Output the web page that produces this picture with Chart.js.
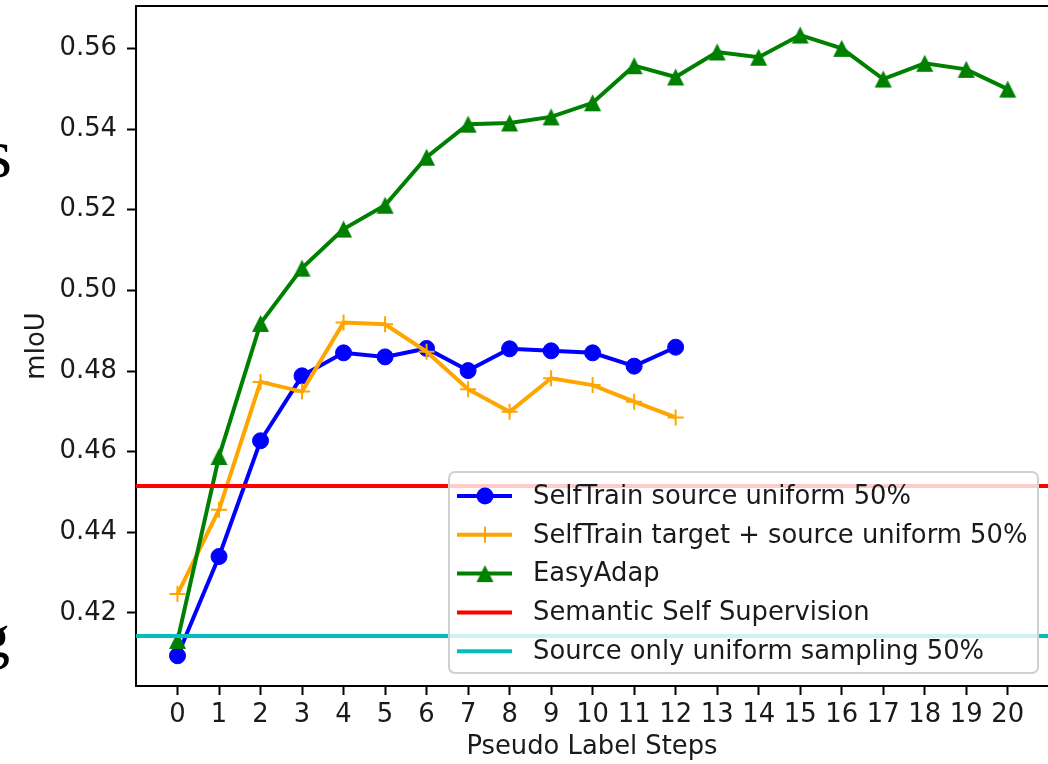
<!DOCTYPE html>
<html>
<head>
<meta charset="utf-8">
<script src="https://cdn.jsdelivr.net/npm/chart.js@4.4.1/dist/chart.umd.min.js"></script>
<style>
  html, body { margin: 0; padding: 0; background: #ffffff; }
  canvas { display: block; }
</style>
</head>
<body>
<canvas id="miou-chart" width="1048" height="764"></canvas>
<script>
// Pseudo label steps (x axis)
const steps = [0, 1, 2, 3, 4, 5, 6, 7, 8, 9, 10, 11, 12, 13, 14, 15, 16, 17, 18, 19, 20];

// mIoU values
const selfTrainSource = [0.4094, 0.4340, 0.4627, 0.4788, 0.4845, 0.4835, 0.4856, 0.4801, 0.4855, 0.4850, 0.4845, 0.4812, 0.4859];
const selfTrainTarget = [0.4247, 0.4456, 0.4773, 0.4749, 0.4920, 0.4916, 0.4848, 0.4755, 0.4699, 0.4782, 0.4765, 0.4724, 0.4685];
const easyAdap = [0.4132, 0.4588, 0.4918, 0.5055, 0.5152, 0.5211, 0.5330, 0.5412, 0.5415, 0.5430, 0.5465,
  0.5557, 0.5529, 0.5591, 0.5578, 0.5633, 0.5600, 0.5524, 0.5563, 0.5548, 0.5499];

// Horizontal reference levels
const semanticSelfSupervision = 0.4515;
const sourceOnlyUniform = 0.4143;

// Tick labels
const yTicks = [0.42, 0.44, 0.46, 0.48, 0.50, 0.52, 0.54, 0.56];
const xTicks = steps;

const labels = [
  "SelfTrain source uniform 50%",
  "SelfTrain target + source uniform 50%",
  "EasyAdap",
  "Semantic Self Supervision",
  "Source only uniform sampling 50%",
];

const BLUE = "#0000ff";
const ORANGE = "#ffa500";
const GREEN = "#008000";
const RED = "#ff0000";
const CYAN = "#00bfbf";
const TEXT = "#1a1a1a";
const FONT = '"DejaVu Sans", sans-serif';
const FONT_SIZE = 25.8;
const LINE_W = 4;

// Triangle marker centred on its bounding box (like matplotlib '^')
function triangleMarker(size, color) {
  const c = document.createElement("canvas");
  c.width = size + 2;
  c.height = size + 2;
  const g = c.getContext("2d");
  g.fillStyle = color;
  g.beginPath();
  g.moveTo((size + 2) / 2, 1);
  g.lineTo(size + 1, size + 1);
  g.lineTo(1, size + 1);
  g.closePath();
  g.fill();
  return c;
}
const triangle = triangleMarker(17, GREEN);

function toPoints(values) {
  return values.map((v, i) => ({ x: steps[i], y: v }));
}

function flatLine(level) {
  return [{ x: -2, y: level }, { x: 22, y: level }];
}

// Top spine, legend box and the cut-off words at the left edge
const extrasPlugin = {
  id: "extras",
  afterDraw(chart) {
    const ctx = chart.ctx;
    const area = chart.chartArea;

    ctx.save();
    ctx.strokeStyle = "#000";
    ctx.lineWidth = 2;
    ctx.beginPath();
    ctx.moveTo(area.left - 1, area.top);
    ctx.lineTo(area.right, area.top);
    ctx.stroke();

    // text fragments from the surrounding page
    ctx.fillStyle = "#000";
    ctx.textAlign = "right";
    ctx.textBaseline = "alphabetic";
    ctx.font = '70px "Liberation Serif", serif';
    ctx.fillText("s", 12, 177);
    ctx.font = '62px "Liberation Serif", serif';
    ctx.fillText("g", 10, 657);

    // legend
    const boxX = 449, boxY = 472, boxW = 589, boxH = 201, r = 6;
    ctx.beginPath();
    ctx.moveTo(boxX + r, boxY);
    ctx.arcTo(boxX + boxW, boxY, boxX + boxW, boxY + boxH, r);
    ctx.arcTo(boxX + boxW, boxY + boxH, boxX, boxY + boxH, r);
    ctx.arcTo(boxX, boxY + boxH, boxX, boxY, r);
    ctx.arcTo(boxX, boxY, boxX + boxW, boxY, r);
    ctx.closePath();
    ctx.fillStyle = "rgba(255,255,255,0.8)";
    ctx.fill();
    ctx.strokeStyle = "#d0d0d0";
    ctx.lineWidth = 2;
    ctx.stroke();

    const colors = [BLUE, ORANGE, GREEN, RED, CYAN];
    const markers = ["circle", "cross", "triangle", null, null];
    ctx.font = FONT_SIZE + "px " + FONT;
    ctx.textAlign = "left";
    ctx.textBaseline = "middle";
    labels.forEach((text, i) => {
      const y = 496 + i * 38.8;
      ctx.strokeStyle = colors[i];
      ctx.fillStyle = colors[i];
      ctx.lineWidth = LINE_W;
      ctx.beginPath();
      ctx.moveTo(457, y);
      ctx.lineTo(512, y);
      ctx.stroke();
      if (markers[i] === "circle") {
        ctx.beginPath();
        ctx.arc(485, y, 8.5, 0, Math.PI * 2);
        ctx.fill();
      } else if (markers[i] === "cross") {
        ctx.lineWidth = 2;
        ctx.beginPath();
        ctx.moveTo(485, y - 8);
        ctx.lineTo(485, y + 8);
        ctx.stroke();
      } else if (markers[i] === "triangle") {
        ctx.drawImage(triangle, 485 - triangle.width / 2, y - triangle.height / 2);
      }
      ctx.fillStyle = TEXT;
      ctx.fillText(text, 533, y + 1);
    });
    ctx.restore();
  },
};

const tickGrid = {
  display: true,
  drawOnChartArea: false,
  drawTicks: true,
  tickLength: 9,
  tickWidth: 2,
  tickColor: "#000",
};

const ctx = document.getElementById("miou-chart").getContext("2d");

const miouChart = new Chart(ctx, {
  type: "line",
  data: {
    datasets: [
      {
        label: labels[0],
        data: toPoints(selfTrainSource),
        borderColor: BLUE,
        backgroundColor: BLUE,
        borderWidth: LINE_W,
        pointStyle: "circle",
        pointRadius: 8,
        pointBorderWidth: 1,
        order: 5,
      },
      {
        label: labels[1],
        data: toPoints(selfTrainTarget),
        borderColor: ORANGE,
        backgroundColor: ORANGE,
        borderWidth: LINE_W,
        pointStyle: "cross",
        pointRadius: 8,
        pointBorderWidth: 2,
        order: 4,
      },
      {
        label: labels[2],
        data: toPoints(easyAdap),
        borderColor: GREEN,
        backgroundColor: GREEN,
        borderWidth: LINE_W,
        pointStyle: triangle,
        pointRadius: 8,
        order: 3,
      },
      {
        label: labels[3],
        data: flatLine(semanticSelfSupervision),
        borderColor: RED,
        borderWidth: LINE_W,
        pointRadius: 0,
        order: 2,
      },
      {
        label: labels[4],
        data: flatLine(sourceOnlyUniform),
        borderColor: CYAN,
        borderWidth: LINE_W,
        pointRadius: 0,
        order: 1,
      },
    ],
  },
  options: {
    responsive: false,
    animation: false,
    events: [],
    layout: { autoPadding: false, padding: { top: 6, left: 0, right: 0, bottom: 0 } },
    plugins: {
      legend: { display: false },
      tooltip: { enabled: false },
    },
    elements: { line: { tension: 0 } },
    scales: {
      x: {
        type: "linear",
        min: -1,
        max: 20.97,
        afterFit: (scale) => {
          scale.height = 78;
          scale.paddingLeft = 0;
          scale.paddingRight = 0;
        },
        afterBuildTicks: (scale) => { scale.ticks = xTicks.map((v) => ({ value: v })); },
        ticks: {
          autoSkip: false,
          maxRotation: 0,
          padding: 5,
          color: TEXT,
          font: { family: FONT, size: FONT_SIZE },
          callback: (v) => String(v),
        },
        grid: tickGrid,
        border: { display: true, color: "#000", width: 2 },
        title: {
          display: true,
          text: "Pseudo Label Steps",
          color: TEXT,
          font: { family: FONT, size: FONT_SIZE },
          padding: { top: 0, bottom: 1 },
        },
      },
      y: {
        type: "linear",
        min: 0.4019,
        max: 0.5705,
        afterFit: (scale) => {
          scale.width = 136;
          scale.paddingTop = 0;
          scale.paddingBottom = 0;
        },
        afterBuildTicks: (scale) => { scale.ticks = yTicks.map((v) => ({ value: v })); },
        ticks: {
          autoSkip: false,
          padding: 10,
          color: TEXT,
          font: { family: FONT, size: FONT_SIZE },
          callback: (v) => v.toFixed(2),
        },
        grid: tickGrid,
        border: { display: true, color: "#000", width: 2 },
        title: {
          display: true,
          text: "mIoU",
          color: TEXT,
          font: { family: FONT, size: FONT_SIZE },
          padding: { top: 22, bottom: 0 },
        },
      },
    },
  },
  plugins: [extrasPlugin],
});
</script>
</body>
</html>
